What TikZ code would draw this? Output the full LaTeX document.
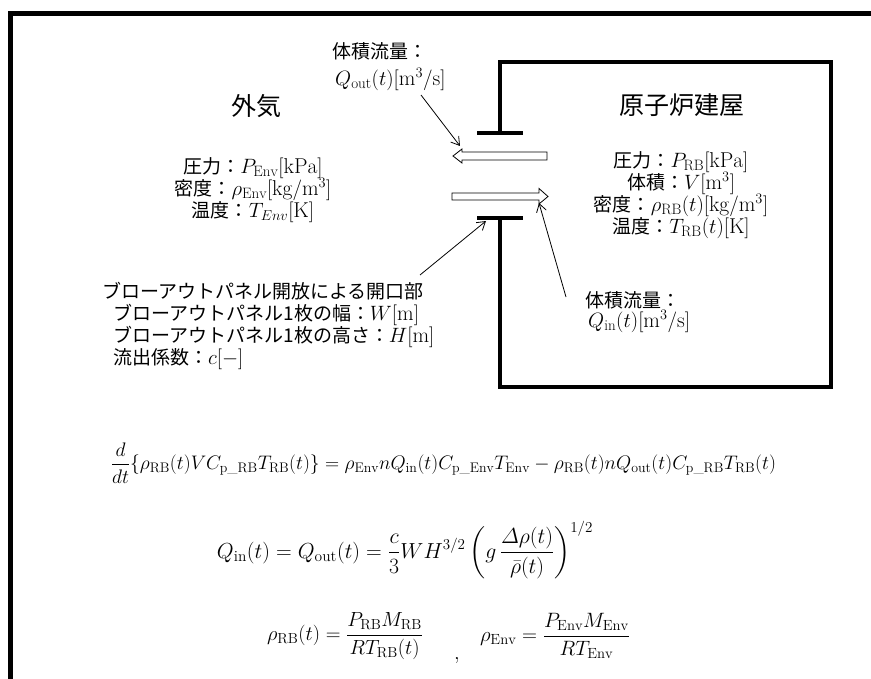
\documentclass[tikz,border=0pt]{standalone}
\usepackage{amsmath}
\usepackage{graphicx}
\usepackage{fontspec}
\newfontfamily\jpfont{Noto Sans CJK JP}
\usetikzlibrary{arrows.meta}
\newcommand\lblsize{\fontsize{19}{22}\selectfont}
\newcommand\mth[1]{{\fontsize{21.5}{24}\selectfont$#1$}}
\begin{document}
\begin{tikzpicture}[x=1pt,y=-1pt,
  frameline/.style={line width=4.5pt},
  wallline/.style={line width=4pt},
  flowarrow/.style={draw, line width=0.8pt, fill=white, line join=miter},
  pointer/.style={line width=0.8pt, -{Straight Barb[length=8pt,width=10pt]}},
  lbl/.style={inner sep=0pt, text height=14pt, text depth=3pt, font=\jpfont\lblsize},
  ttl/.style={inner sep=0pt, font=\jpfont\fontsize{25}{28}\selectfont},
  eqn/.style={inner sep=0pt}]
\useasboundingbox (0,0) rectangle (871,679);
\fill[white] (0,0) rectangle (871,679);
% outer frame
\draw[frameline] (10.5,679) -- (10.5,13.5) -- (871,13.5);
% reactor building walls with opening
\draw[wallline] (500,133) -- (500,62.5) -- (831,62.5) -- (831,387) -- (500,387) -- (500,218);
\draw[wallline] (477,133) -- (523,133);
\draw[wallline] (477,218) -- (523,218);
% hollow flow arrows
\draw[flowarrow] (547,152) -- (462,152) -- (462,149) -- (453,156) -- (462,163) -- (462,160) -- (547,160) -- cycle;
\draw[flowarrow] (452,193) -- (539,193) -- (539,188.5) -- (548,196.5) -- (539,204) -- (539,200) -- (452,200) -- cycle;
% titles
\node[ttl] (envtitle) at (256,106) {外気};
\node[ttl] (rbtitle) at (682,105) {原子炉建屋};
% outflow label
\node[lbl, anchor=west] (qoutname) at (332,53) {体積流量：};
\node[lbl, anchor=west] (qoutval) at (335,80) {\mth{Q_{\mathrm{out}}(t)[\mathrm{m}^3/\mathrm{s}]}};
% environment properties
\node[lbl] (envp) at (253,168) {圧力：\mth{P_{\mathrm{Env}}[\mathrm{kPa}]}};
\node[lbl] (envrho) at (253,190) {密度：\mth{\rho_{\mathrm{Env}}[\mathrm{kg}/\mathrm{m}^3]}};
\node[lbl] (envt) at (253,212) {温度：\mth{T_{Env}[\mathrm{K}]}};
% reactor building properties
\node[lbl] (rbp) at (681,162) {圧力：\mth{P_{\mathrm{RB}}[\mathrm{kPa}]}};
\node[lbl] (rbv) at (681,184) {体積：\mth{V[\mathrm{m}^3]}};
\node[lbl] (rbrho) at (681,206) {密度：\mth{\rho_{\mathrm{RB}}(t)[\mathrm{kg}/\mathrm{m}^3]}};
\node[lbl] (rbt) at (681,228) {温度：\mth{T_{\mathrm{RB}}(t)[\mathrm{K}]}};
% opening label
\node[lbl, anchor=west] (open1) at (102,293) {ブローアウトパネル開放による開口部};
\node[lbl, anchor=west] (open2) at (113,315) {ブローアウトパネル1枚の幅：\mth{W[\mathrm{m}]}};
\node[lbl, anchor=west] (open3) at (113,337) {ブローアウトパネル1枚の高さ：\mth{H[\mathrm{m}]}};
\node[lbl, anchor=west] (open4) at (113,359) {流出係数：\mth{c[-]}};
% inflow label
\node[lbl, anchor=west] (qinname) at (585,302) {体積流量：};
\node[lbl, anchor=west] (qinval) at (588,322) {\mth{Q_{\mathrm{in}}(t)[\mathrm{m}^3/\mathrm{s}]}};
% pointer ends
\coordinate (qoutfoot) at (421,95);
\coordinate (outtip) at (460,146);
\coordinate (openfoot) at (420,275);
\coordinate (bartip) at (486,221);
\coordinate (qinfoot) at (566,297);
\coordinate (intip) at (539,203);
\draw[pointer] (qoutfoot) -- (outtip);
\draw[pointer] (openfoot) -- (bartip);
\draw[pointer] (qinfoot) -- (intip);
% equations
\node[eqn] (eqone) at (443.5,463) {\resizebox{665pt}{!}{\fontsize{21}{24}\selectfont$\displaystyle \frac{d}{dt}\{\rho_{\mathrm{RB}}(t)VC_{\mathrm{p\_RB}}T_{\mathrm{RB}}(t)\}=\rho_{\mathrm{Env}}nQ_{\mathrm{in}}(t)C_{\mathrm{p\_Env}}T_{\mathrm{Env}}-\rho_{\mathrm{RB}}(t)nQ_{\mathrm{out}}(t)C_{\mathrm{p\_RB}}T_{\mathrm{RB}}(t)$}};
\node[eqn] (eqtwo) at (405,550) {\resizebox{376pt}{!}{\fontsize{21}{24}\selectfont$\displaystyle Q_{\mathrm{in}}(t)=Q_{\mathrm{out}}(t)=\frac{c}{3}WH^{3/2}\left(g\,\frac{\varDelta\rho(t)}{\bar{\rho}(t)}\right)^{1/2}$}};
\node[eqn] (eqthreea) at (345,636) {\resizebox{156pt}{!}{\fontsize{21}{24}\selectfont$\displaystyle \rho_{\mathrm{RB}}(t)=\frac{P_{\mathrm{RB}}M_{\mathrm{RB}}}{RT_{\mathrm{RB}}(t)}$}};
\node[eqn] (comma) at (457,661) {\mth{,}};
\node[eqn] (eqthreeb) at (555,636) {\resizebox{150pt}{!}{\fontsize{21}{24}\selectfont$\displaystyle \rho_{\mathrm{Env}}=\frac{P_{\mathrm{Env}}M_{\mathrm{Env}}}{RT_{\mathrm{Env}}}$}};
\end{tikzpicture}
\end{document}
